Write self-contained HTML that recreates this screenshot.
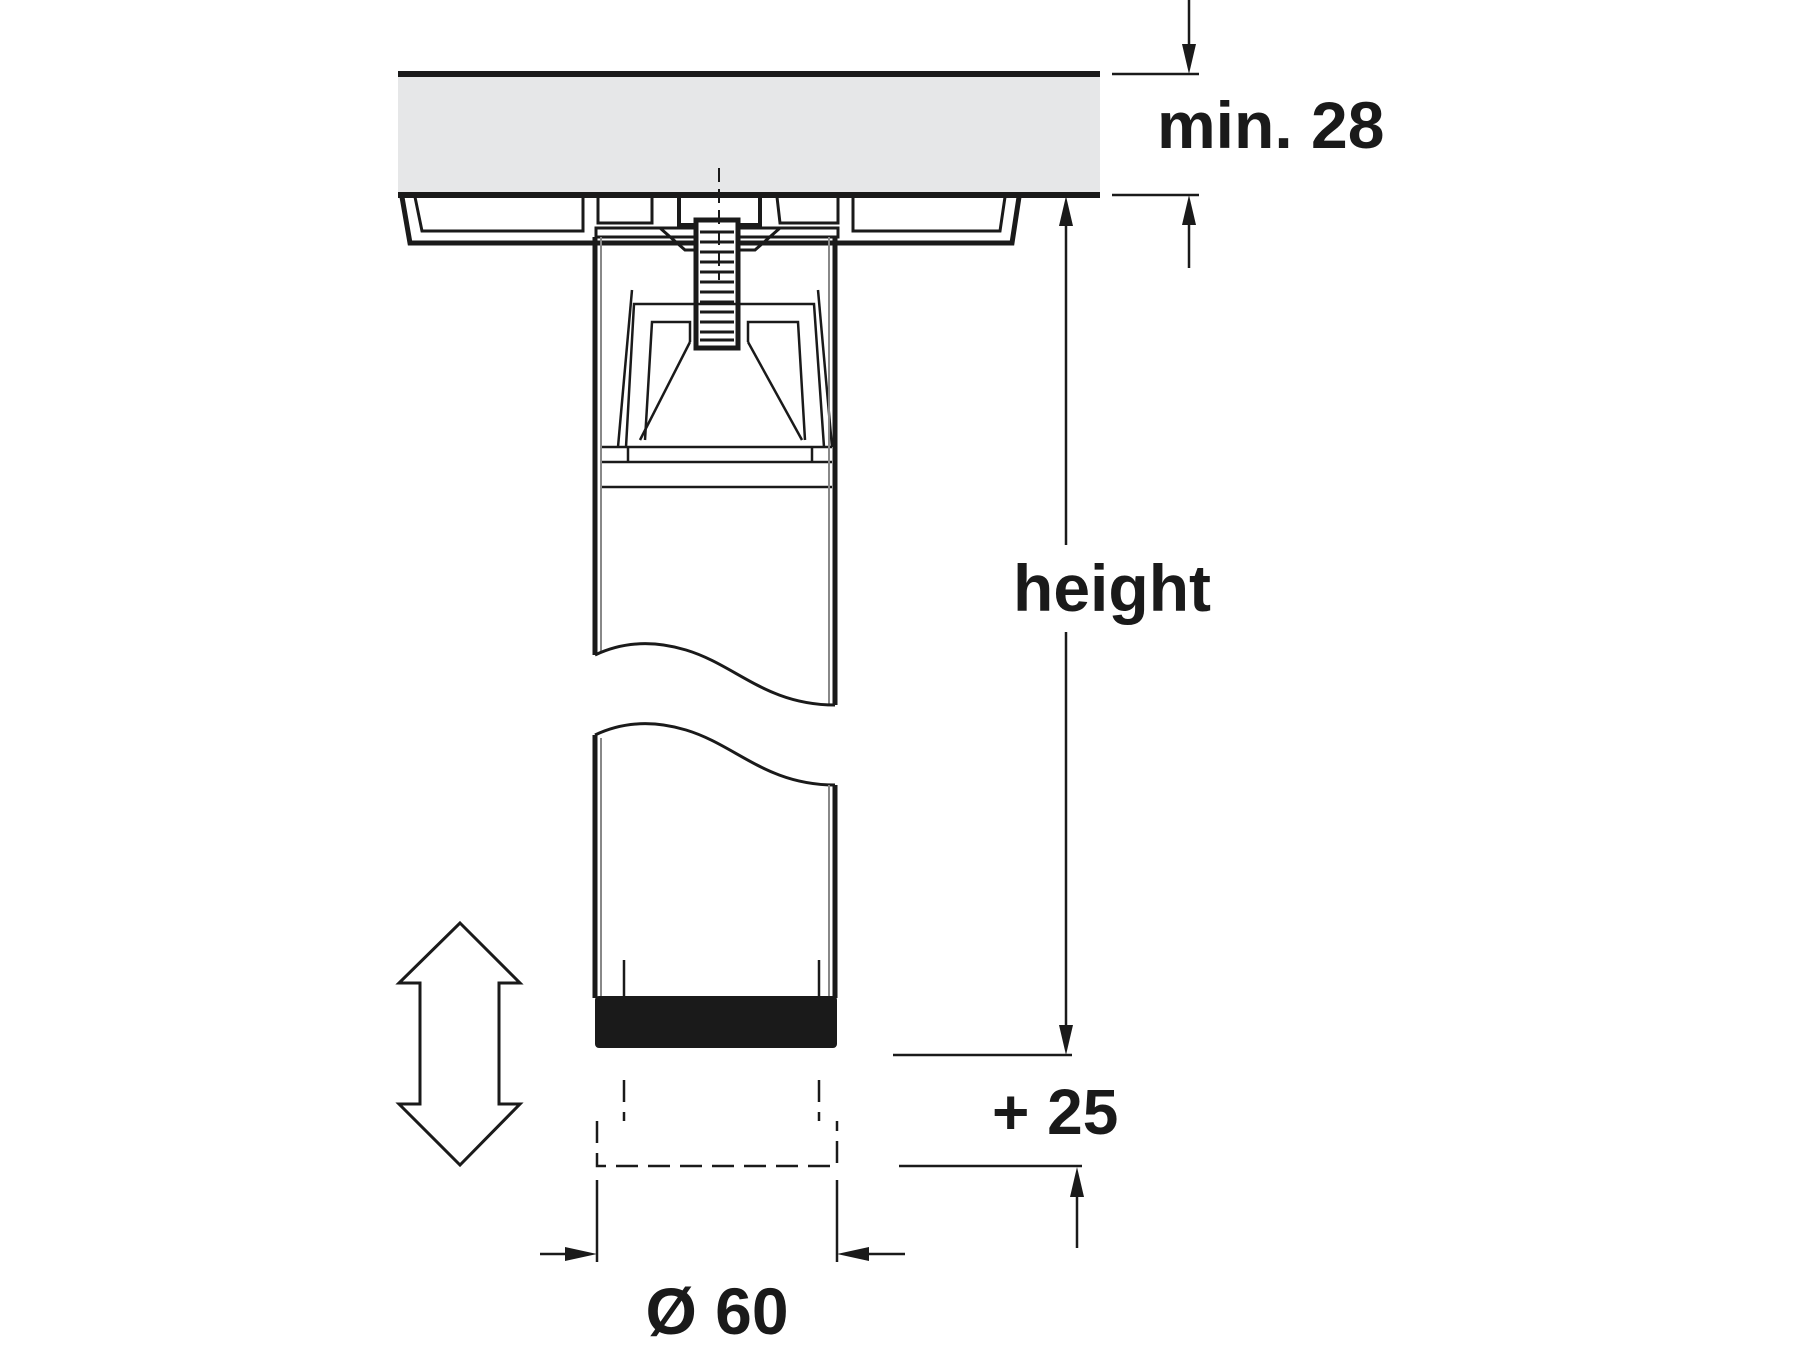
<!DOCTYPE html>
<html><head><meta charset="utf-8"><style>html,body{margin:0;padding:0;background:#fff}svg{display:block}text{font-family:"Liberation Sans",Arial,sans-serif;font-weight:bold;fill:#1a1a1a}</style></head>
<body>
<svg width="1800" height="1350" viewBox="0 0 1800 1350" xmlns="http://www.w3.org/2000/svg">
<g stroke="#1a1a1a" fill="none" stroke-linecap="butt">
<!-- board -->
<rect x="398" y="74" width="702" height="121" fill="#e6e7e8" stroke="none"/>
<line x1="398" y1="74" x2="1100" y2="74" stroke-width="6"/>
<line x1="398" y1="195" x2="1100" y2="195" stroke-width="6"/>
<!-- min 28 dim -->
<line x1="1112" y1="74" x2="1199" y2="74" stroke-width="2.5"/>
<line x1="1112" y1="195" x2="1199" y2="195" stroke-width="2.5"/>
<line x1="1189" y1="0" x2="1189" y2="50" stroke-width="2.5"/>
<line x1="1189" y1="220" x2="1189" y2="268" stroke-width="2.5"/>
<!-- plate -->
<path d="M402,197 L410,243 L1012,243 L1019,197" stroke-width="5"/>
<path d="M415,197 L422,231 L583,231 L583,197" stroke-width="3"/>
<path d="M598,197 L598,223 L652,223 L652,197" stroke-width="3"/>
<path d="M679,197 L679,225 L760,225 L760,197" stroke-width="4"/>
<path d="M777,197 L780,223 L838,223 L838,197" stroke-width="3"/>
<path d="M853,197 L853,231 L1000,231 L1005,197" stroke-width="3"/>
<rect x="596" y="228" width="242" height="9" stroke-width="3"/>
<path d="M660,228 L685,250 L696,250" stroke-width="3"/>
<path d="M780,228 L755,250 L738,250" stroke-width="3"/>
<!-- bolt -->
<rect x="696" y="220" width="42" height="128" stroke-width="5" fill="#fff"/>
<g stroke-width="3">
<line x1="700" y1="232" x2="734" y2="232"/><line x1="700" y1="242" x2="734" y2="242"/><line x1="700" y1="252" x2="734" y2="252"/><line x1="700" y1="262" x2="734" y2="262"/><line x1="700" y1="272" x2="734" y2="272"/><line x1="700" y1="282" x2="734" y2="282"/><line x1="700" y1="292" x2="734" y2="292"/><line x1="700" y1="302" x2="734" y2="302"/><line x1="700" y1="312" x2="734" y2="312"/><line x1="700" y1="322" x2="734" y2="322"/><line x1="700" y1="332" x2="734" y2="332"/><line x1="700" y1="340" x2="734" y2="340"/>
</g>
<line x1="719" y1="168" x2="719" y2="280" stroke-width="2" stroke-dasharray="14,7"/>
<!-- funnel -->
<g stroke-width="2.5">
<line x1="632" y1="290" x2="618" y2="447"/>
<line x1="818" y1="290" x2="832" y2="447"/>
<path d="M626,447 L634,304 L814,304 L824,447"/>
<path d="M645,440 L652,322 L690,322 L690,342"/>
<path d="M805,440 L798,322 L748,322 L748,342"/>
<line x1="690" y1="342" x2="640" y2="440"/>
<line x1="748" y1="342" x2="802" y2="440"/>
<line x1="600" y1="447" x2="832" y2="447"/>
<line x1="628" y1="447" x2="628" y2="462"/>
<line x1="812" y1="447" x2="812" y2="462"/>
<line x1="600" y1="462" x2="832" y2="462"/>
<line x1="600" y1="487" x2="832" y2="487"/>
</g>
<!-- tube upper -->
<line x1="595" y1="237" x2="595" y2="655" stroke-width="5"/>
<line x1="601" y1="237" x2="601" y2="652" stroke-width="2" stroke="#888"/>
<line x1="835" y1="237" x2="835" y2="705" stroke-width="5"/>
<line x1="829" y1="237" x2="829" y2="705" stroke-width="2" stroke="#888"/>
<path d="M595,655 C616,645 646,638 686,650 C736,665 766,705 835,705" stroke-width="3"/>
<!-- tube lower -->
<path d="M595,735 C616,725 646,718 686,730 C736,745 766,785 835,785" stroke-width="3"/>
<line x1="595" y1="735" x2="595" y2="998" stroke-width="5"/>
<line x1="601" y1="738" x2="601" y2="998" stroke-width="2" stroke="#888"/>
<line x1="835" y1="785" x2="835" y2="998" stroke-width="5"/>
<line x1="829" y1="785" x2="829" y2="998" stroke-width="2" stroke="#888"/>
<line x1="624" y1="960" x2="624" y2="997" stroke-width="2.5"/>
<line x1="819" y1="960" x2="819" y2="997" stroke-width="2.5"/>
<!-- foot -->
<rect x="595" y="996" width="242" height="52" rx="4" fill="#1a1a1a" stroke="none"/>
<!-- dashed -->
<g stroke-width="2.5" stroke-dasharray="22,10">
<line x1="624" y1="1080" x2="624" y2="1121"/>
<line x1="819" y1="1080" x2="819" y2="1121"/>
<path d="M597,1121 L597,1166 L837,1166 L837,1121"/>
</g>
<line x1="597" y1="1180" x2="597" y2="1262" stroke-width="2.5"/>
<line x1="837" y1="1180" x2="837" y2="1262" stroke-width="2.5"/>
<line x1="540" y1="1254" x2="570" y2="1254" stroke-width="2.5"/>
<line x1="868" y1="1254" x2="905" y2="1254" stroke-width="2.5"/>
<!-- height dim -->
<line x1="1066" y1="545" x2="1066" y2="222" stroke-width="2.5"/>
<line x1="1066" y1="632" x2="1066" y2="1030" stroke-width="2.5"/>
<line x1="893" y1="1055" x2="1072" y2="1055" stroke-width="2.5"/>
<line x1="899" y1="1166" x2="1082" y2="1166" stroke-width="2.5"/>
<line x1="1077" y1="1190" x2="1077" y2="1248" stroke-width="2.5"/>
<!-- double arrow -->
<path d="M460,923 L520,983 L499,983 L499,1104 L520,1104 L460,1165 L399,1104 L420,1104 L420,983 L399,983 Z" stroke-width="3" fill="#fff"/>
</g>
<!-- arrowheads -->
<g fill="#1a1a1a">
<polygon points="1189,74 1182,44 1196,44"/>
<polygon points="1189,195 1182,225 1196,225"/>
<polygon points="1066,196 1059,226 1073,226"/>
<polygon points="1066,1055 1059,1025 1073,1025"/>
<polygon points="1077,1167 1070,1197 1084,1197"/>
<polygon points="597,1254 565,1247 565,1261"/>
<polygon points="837,1254 869,1247 869,1261"/>
</g>
<text x="1157" y="148" font-size="66">min. 28</text>
<text x="1112" y="611" font-size="66" text-anchor="middle">height</text>
<text x="992" y="1134" font-size="64">+ 25</text>
<text x="717" y="1334" font-size="66" text-anchor="middle">Ø 60</text>
</svg>
</body></html>
